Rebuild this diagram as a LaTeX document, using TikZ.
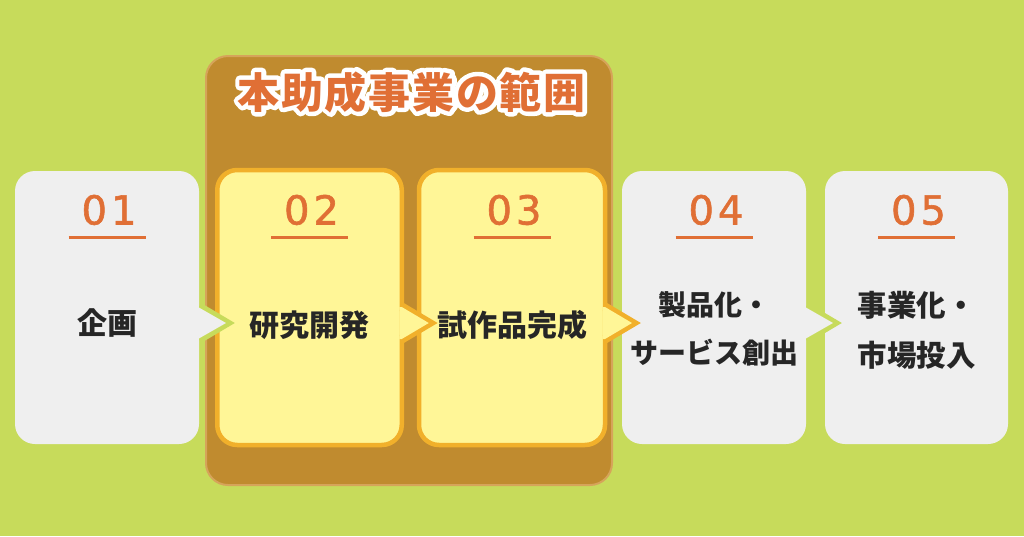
\documentclass[tikz,border=0pt]{standalone}
\usepackage{fontspec}
\setmainfont{Noto Sans CJK JP}
\newfontfamily\numfont{DejaVu Sans}[LetterSpace=10, FakeBold=1.5]
\newfontfamily\ttlfont{Noto Sans CJK JP}[LetterSpace=4]
\usetikzlibrary{calc}
\definecolor{bgc}{HTML}{C7DB5B}
\definecolor{brownc}{HTML}{C08B2F}
\definecolor{brownedge}{HTML}{D6A45A}
\definecolor{cardgrey}{HTML}{EFEFEF}
\definecolor{cardyel}{HTML}{FFF697}
\definecolor{ybord}{HTML}{F1B02B}
\definecolor{numorange}{HTML}{E06F35}
\definecolor{darktext}{HTML}{262626}
\tikzset{
  greycard/.style={fill=cardgrey, rounded corners=20pt, minimum width=184pt, minimum height=273pt, outer sep=0pt, inner sep=0pt},
  yelcard/.style={fill=cardyel, draw=ybord, line width=4.5pt, rounded corners=20pt, minimum height=275pt, outer sep=0pt, inner sep=0pt},
  numtxt/.style={text=numorange, font=\numfont\fontsize{40}{40}\selectfont, anchor=base, inner sep=0pt},
  numline/.style={draw=numorange, line width=3pt},
  cardtxt/.style={text=darktext, font=\bfseries\fontsize{30}{49}\selectfont, align=center, inner sep=0pt},
  chevline/.style={line width=9pt, miter limit=10},
}
\newcommand\greychev[1]{%
  \begin{scope}
    \clip ($(#1)+(0,-30)$) rectangle ($(#1)+(45,30)$);
    \draw[chevline, bgc] ($(#1)+(0,-16)$) -- ($(#1)+(27,0)$) -- ($(#1)+(0,16)$);
    \fill[cardgrey] ($(#1)+(-1,-16)$) -- ($(#1)+(27,0)$) -- ($(#1)+(-1,16)$) -- cycle;
  \end{scope}}
\newcommand\yelchev[1]{%
  \draw[chevline, ybord] ($(#1)+(0,-16)$) -- ($(#1)+(27,0)$) -- ($(#1)+(0,16)$);
  \fill[cardyel] ($(#1)+(-2.5,-16)$) -- ($(#1)+(0,-16)$) -- ($(#1)+(27,0)$) -- ($(#1)+(0,16)$) -- ($(#1)+(-2.5,16)$) -- cycle;}
\begin{document}
\begin{tikzpicture}[x=1pt,y=-1pt]
\useasboundingbox (0,0) rectangle (1024,536);
\fill[bgc] (0,0) rectangle (1024,536);
% frame
\draw[fill=brownc, draw=brownedge, line width=2pt, rounded corners=22pt] (206,56) rectangle (612,485);
% cards
\node[greycard] (c1) at (107,307.5) {};
\node[yelcard, minimum width=184.5pt] (c2) at (309.5,307.5) {};
\node[yelcard, minimum width=186pt] (c3) at (512,307.5) {};
\node[greycard] (c4) at (714,307.5) {};
\node[greycard, minimum width=183pt] (c5) at (916.5,307.5) {};
% chevrons
\coordinate (e1) at ($(c1.east)+(0,15.5)$);
\coordinate (e2) at ($(c2.east)+(0,15.5)$);
\coordinate (e3) at ($(c3.east)+(0,15.5)$);
\coordinate (e4) at ($(c4.east)+(0,15.5)$);
\greychev{e1}
\yelchev{e2}
\yelchev{e3}
\greychev{e4}
% title
\node[text=white, font=\ttlfont\bfseries\fontsize{42}{42}\selectfont, inner sep=0pt] (ttlback) at (411.5,92) {\special{pdf:literal direct 1 Tr 1 j 1 J 9 w 1 1 1 RG}本助成事業の範囲\special{pdf:literal direct 0 Tr}};
\node[text=numorange, font=\ttlfont\bfseries\fontsize{42}{42}\selectfont, inner sep=0pt] (ttl) at (411.5,92) {本助成事業の範囲};
% numbers
\foreach \c/\n in {c1/01,c2/02,c3/03,c4/04,c5/05}{
  \node[numtxt] (n\c) at ($(\c.center)+(2,-83)$) {\n};
  \draw[numline] ($(\c.center)+(-38.5,-70.5)$) -- ($(\c.center)+(38.5,-70.5)$);
}
% texts
\node[cardtxt] (t1) at ($(c1.center)+(0,16)$) {企画};
\node[cardtxt] (t2) at ($(c2.center)+(0,17.5)$) {研究開発};
\node[cardtxt] (t3) at ($(c3.center)+(0,17.5)$) {試作品完成};
\node[cardtxt, font=\bfseries\fontsize{28}{48}\selectfont] (t4) at ($(c4.center)+(0,21.5)$) {製品化・\\サービス創出};
\node[cardtxt, font=\bfseries\fontsize{29.5}{50}\selectfont] (t5) at ($(c5.center)+(0,22.5)$) {事業化・\\市場投入};
\end{tikzpicture}
\end{document}
